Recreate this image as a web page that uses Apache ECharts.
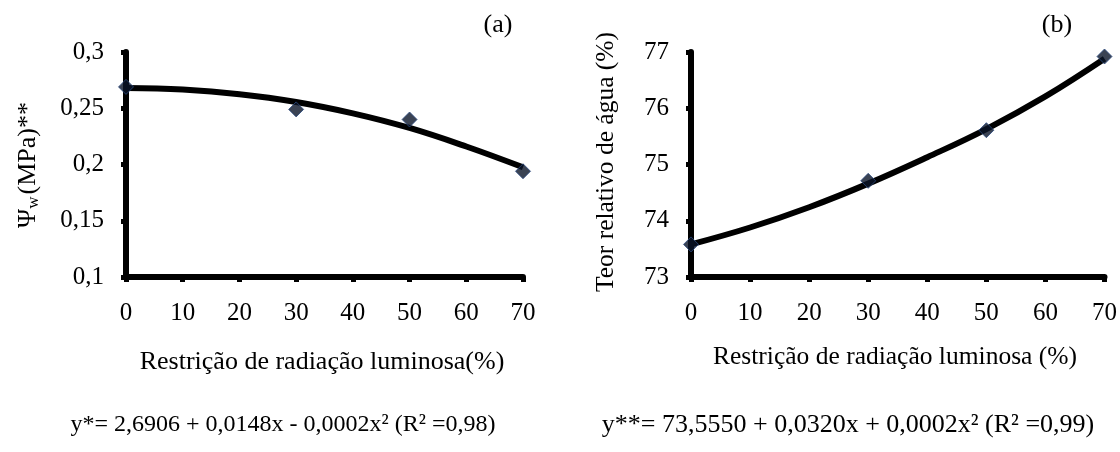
<!DOCTYPE html>
<html><head><meta charset="utf-8">
<script src="https://cdn.jsdelivr.net/npm/echarts@6/dist/echarts.min.js"></script>
<style>html,body{margin:0;padding:0;background:#fff}#c{width:1120px;height:452px}</style>
</head><body><div id="c"></div>
<script>
// Panel (a): water potential
const xTicks = [0, 10, 20, 30, 40, 50, 60, 70];
const obsX = [0, 30, 50, 70];
const psiObs = [0.269, 0.249, 0.240, 0.194];
const psiFitX = [0, 10, 20, 30, 40, 50, 60, 70];
const psiFit = [0.268, 0.2666, 0.2625, 0.2556, 0.2455, 0.2325, 0.2160, 0.1975];
// Panel (b): relative water content
const truObs = [73.58, 74.71, 75.61, 76.92];
const truFitX = [0, 10, 20, 30, 40, 50, 60, 70];
const truFit = [73.58, 73.88, 74.24, 74.66, 75.13, 75.63, 76.21, 76.88];

const eqA = 'y*= 2,6906 + 0,0148x - 0,0002x² (R² =0,98)';
const eqB = 'y**= 73,5550 + 0,0320x + 0,0002x² (R² =0,99)';
const xTitleA = 'Restrição de radiação luminosa(%)';
const xTitleB = 'Restrição de radiação luminosa (%)';
const yTitleB = 'Teor relativo de água (%)';

const FONT = '"Liberation Serif", "Times New Roman", serif';
const pairs = (xs, ys) => xs.map((x, i) => [x, ys[i]]);
const comma = v => String(Math.round(v * 100) / 100).replace('.', ',');

const axisLine = {show: true, lineStyle: {color: '#000', width: 6}};
const axisTick = {show: true, length: 5, lineStyle: {color: '#000', width: 5}};
const lbl = {color: '#000', fontFamily: FONT, fontSize: 25};

function xAx(gi) {
  return {type: 'value', gridIndex: gi, min: 0, max: 70, interval: 10,
    axisLine, axisTick, splitLine: {show: false},
    axisLabel: Object.assign({margin: 24}, lbl)};
}
const mark = {color: '#0a1428', borderColor: '#2a4a80', borderWidth: 1};

const chart = echarts.init(document.getElementById('c'));
chart.setOption({
  animation: false,
  grid: [
    {left: 126, top: 52, width: 397, height: 225},
    {left: 691, top: 52, width: 415, height: 225}
  ],
  xAxis: [xAx(0), xAx(1)],
  yAxis: [
    {type: 'value', gridIndex: 0, min: 0.1, max: 0.3, interval: 0.05,
      axisLine, axisTick, splitLine: {show: false},
      axisLabel: Object.assign({margin: 22, formatter: comma}, lbl)},
    {type: 'value', gridIndex: 1, min: 73, max: 77, interval: 1,
      axisLine, axisTick, splitLine: {show: false},
      axisLabel: Object.assign({margin: 22}, lbl)}
  ],
  series: [
    {type: 'line', xAxisIndex: 0, yAxisIndex: 0, data: pairs(psiFitX, psiFit),
      smooth: 0.4, showSymbol: false, lineStyle: {color: '#000', width: 6}, z: 2},
    {type: 'scatter', xAxisIndex: 0, yAxisIndex: 0, data: pairs(obsX, psiObs),
      symbol: 'diamond', symbolSize: 15, itemStyle: mark, z: 3},
    {type: 'line', xAxisIndex: 1, yAxisIndex: 1, data: pairs(truFitX, truFit),
      smooth: 0.4, showSymbol: false, lineStyle: {color: '#000', width: 6}, z: 2},
    {type: 'scatter', xAxisIndex: 1, yAxisIndex: 1, data: pairs(obsX, truObs),
      symbol: 'diamond', symbolSize: 15, itemStyle: mark, z: 3}
  ],
  graphic: [
    {type: 'text', x: 498, y: 25, style: {text: '(a)', font: '26px ' + FONT, fill: '#000', textAlign: 'center', textVerticalAlign: 'middle'}},
    {type: 'text', x: 1057, y: 25, style: {text: '(b)', font: '26px ' + FONT, fill: '#000', textAlign: 'center', textVerticalAlign: 'middle'}},
    {type: 'text', x: 322, y: 362, style: {text: xTitleA, font: '26px ' + FONT, fill: '#000', textAlign: 'center', textVerticalAlign: 'middle'}},
    {type: 'text', x: 895, y: 357, style: {text: xTitleB, font: '25.5px ' + FONT, fill: '#000', textAlign: 'center', textVerticalAlign: 'middle'}},
    {type: 'text', x: 283, y: 425, style: {text: eqA, font: '24px ' + FONT, fill: '#000', textAlign: 'center', textVerticalAlign: 'middle'}},
    {type: 'text', x: 848, y: 425, style: {text: eqB, font: '26px ' + FONT, fill: '#000', textAlign: 'center', textVerticalAlign: 'middle'}},
    {type: 'text', x: 28, y: 165, rotation: Math.PI / 2,
      style: {text: '{m|Ψ}{s|w}{m|(MPa)**}', fill: '#000', textAlign: 'center', textVerticalAlign: 'middle',
        rich: {m: {fontFamily: FONT, fontSize: 26, fill: '#000', color: '#000'},
               s: {fontFamily: FONT, fontSize: 17, fill: '#000', color: '#000', padding: [12, 2, 0, 0]}}}},
    {type: 'text', x: 606, y: 162, rotation: Math.PI / 2,
      style: {text: yTitleB, font: '25.5px ' + FONT, fill: '#000', textAlign: 'center', textVerticalAlign: 'middle'}}
  ]
});
</script></body></html>
